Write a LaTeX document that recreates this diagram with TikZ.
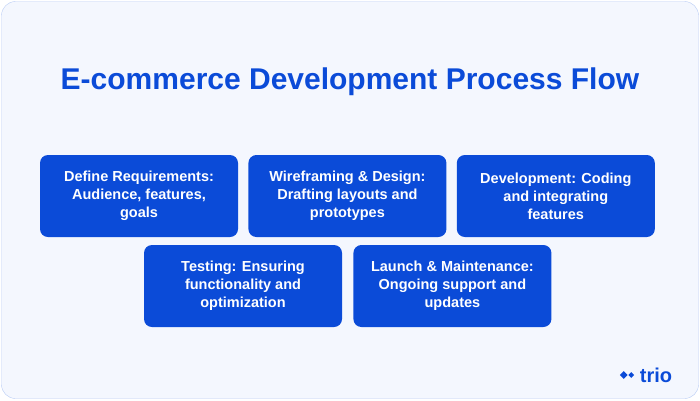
\documentclass[tikz,border=0pt]{standalone}
\usepackage{fontspec}
\setmainfont{Liberation Sans}
\usetikzlibrary{positioning}
\definecolor{trioblue}{HTML}{0B4BD8}
\definecolor{panelbg}{HTML}{F4F7FE}
\definecolor{panelline}{HTML}{B9CCF5}
\tikzset{
  stepbox/.style={draw=none,fill=trioblue,rounded corners=8pt,minimum width=198pt,
    minimum height=82pt,align=center,text=white,
    font=\fontsize{14.5}{18}\selectfont\bfseries,inner sep=0pt},
}
\begin{document}
\begin{tikzpicture}[x=1pt,y=-1pt]
	\useasboundingbox (0,0) rectangle (700,400);
	\draw [panelline,fill=panelbg,rounded corners=14pt] (1.5,1.5) rectangle (698.5,398.5);
	\node (title) at (350,82) [text=trioblue,font=\fontsize{30}{32}\selectfont\bfseries] {E-commerce Development Process Flow};
	% first row
	\node (req) at (139,196) [stepbox] {Define Requirements:\\Audience, features,\\goals};
	\node (wire) [stepbox,right=10pt of req] {Wireframing \& Design:\\Drafting layouts and\\prototypes};
	\node (dev) [stepbox,right=10pt of wire] {Development: Coding\\and integrating\\features};
	% second row
	\node (test) at (243,286) [stepbox] {Testing: Ensuring\\functionality and\\optimization};
	\node (launch) [stepbox,right=11pt of test] {Launch \& Maintenance:\\Ongoing support and\\updates};
	% logo
	\fill [trioblue,rotate around={45:(627,375)}] (622,370) rectangle (627.5,375.5) (628,376) rectangle (632,380);
	\node (logo) at (656,375) [text=trioblue,font=\fontsize{20}{20}\selectfont\bfseries] {trio};
\end{tikzpicture}
\end{document}
